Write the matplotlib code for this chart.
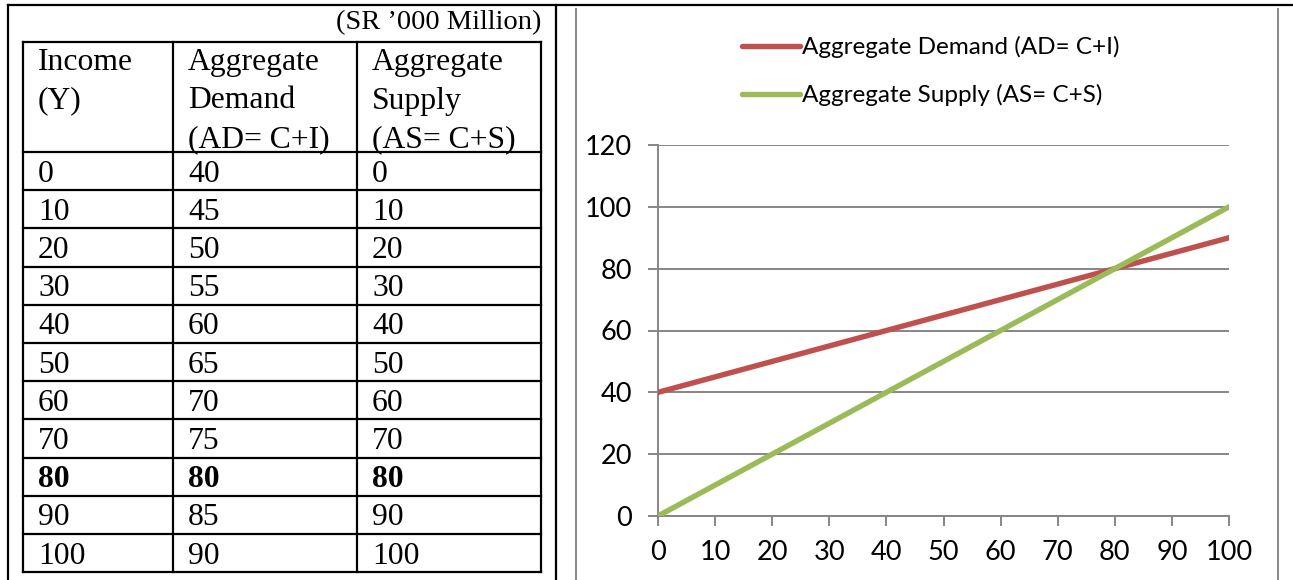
import matplotlib
matplotlib.use("Agg")
import matplotlib.pyplot as plt
from matplotlib.lines import Line2D

# ---- data ----
income = [0, 10, 20, 30, 40, 50, 60, 70, 80, 90, 100]
agg_demand = [40, 45, 50, 55, 60, 65, 70, 75, 80, 85, 90]
agg_supply = [0, 10, 20, 30, 40, 50, 60, 70, 80, 90, 100]
headers = [["Income", "(Y)"],
           ["Aggregate", "Demand", "(AD= C+I)"],
           ["Aggregate", "Supply", "(AS= C+S)"]]
unit_note = "(SR \u2019000 Million)"
bold_row_value = 80
legend_labels = ["Aggregate Demand (AD= C+I)", "Aggregate Supply (AS= C+S)"]
y_ticks = [0, 20, 40, 60, 80, 100, 120]
x_ticks = [0, 10, 20, 30, 40, 50, 60, 70, 80, 90, 100]

RED = "#C0504D"
GREEN = "#9BBB59"
GRID = "#868686"
SANS = ["Lato", "DejaVu Sans"]
SERIF = ["Liberation Serif", "DejaVu Serif"]

W, H = 1293, 580
fig = plt.figure(figsize=(W / 100, H / 100), dpi=100)

# background overlay in pixel coords
bg = fig.add_axes([0, 0, 1, 1])
bg.set_xlim(0, W)
bg.set_ylim(H, 0)
bg.axis("off")

# outer frame lines
bg.plot([8, W], [5, 5], color="black", lw=1.6)
bg.plot([8, 8], [5, H], color="black", lw=1.6)
bg.plot([556, 556], [5, H], color="black", lw=1.6)
# chart frame (grey)
bg.plot([576, 576], [9, H], color=GRID, lw=1.4)
bg.plot([1278, 1278], [9, H], color=GRID, lw=1.4)

# ---- table ----
tx0, tx1 = 23, 541
col_x = [23, 173, 357, 541]
ty0, thead = 42, 152
row_h = 38.2
nrows = len(income)
ty1 = thead + nrows * row_h
for cx in col_x:
    bg.plot([cx, cx], [ty0, ty1], color="black", lw=1.6)
bg.plot([tx0, tx1], [ty0, ty0], color="black", lw=1.6)
for i in range(nrows + 1):
    yy = thead + i * row_h
    bg.plot([tx0, tx1], [yy, yy], color="black", lw=1.6)

bg.text(541, 23, unit_note, ha="right", va="center", fontsize=20.5,
        family=SERIF)

fs_tab = 22.8
for c, lines in enumerate(headers):
    for j, t in enumerate(lines):
        bg.text(col_x[c] + 15, 60 + j * 38.5 + 10, t, ha="left", va="baseline",
                fontsize=fs_tab, family=SERIF)

for i in range(nrows):
    yc = thead + (i + 0.5) * row_h
    vals = [income[i], agg_demand[i], agg_supply[i]]
    bold = income[i] == bold_row_value
    for c, v in enumerate(vals):
        bg.text(col_x[c] + 15, yc + 10.5, str(v), ha="left", va="baseline",
                fontsize=fs_tab, family=SERIF,
                fontweight="bold" if bold else "normal")

# ---- chart ----
ax = fig.add_axes([658 / W, (H - 516) / H, 571 / W, 371 / H])
ax.plot(income, agg_demand, color=RED, lw=3.9, solid_capstyle="round", zorder=3)
ax.plot(income, agg_supply, color=GREEN, lw=3.9, solid_capstyle="round", zorder=4)
ax.set_xlim(0, 100)
ax.set_ylim(0, 120)
ax.set_yticks(y_ticks)
ax.set_xticks(x_ticks)
ax.set_yticklabels([str(v) for v in y_ticks])
ax.set_xticklabels([str(v) for v in x_ticks])
for sp in ["top", "right"]:
    ax.spines[sp].set_visible(False)
for sp in ["left", "bottom"]:
    ax.spines[sp].set_color(GRID)
    ax.spines[sp].set_linewidth(1.4)
ax.yaxis.grid(True, color=GRID, lw=1.4)
ax.set_axisbelow(True)
ax.tick_params(axis="both", colors=GRID, length=7.5, width=1.4, labelcolor="black",
               labelsize=19.5)
ax.tick_params(axis="y", pad=11)
ax.tick_params(axis="x", pad=10)
for lab in ax.get_xticklabels() + ax.get_yticklabels():
    lab.set_family(SANS)
ax.patch.set_visible(False)

handles = [Line2D([], [], color=RED, lw=3.9, solid_capstyle="round"),
           Line2D([], [], color=GREEN, lw=3.9, solid_capstyle="round")]
leg = fig.legend(handles, legend_labels, loc="upper left",
                 bbox_to_anchor=(742 / W, 1 - 36 / H), bbox_transform=fig.transFigure,
                 frameon=False, handlelength=2.4, handletextpad=0.08,
                 labelspacing=1.08, borderpad=0, borderaxespad=0,
                 prop={"family": SANS, "size": 17.5})

fig.savefig("out.png", dpi=100)
